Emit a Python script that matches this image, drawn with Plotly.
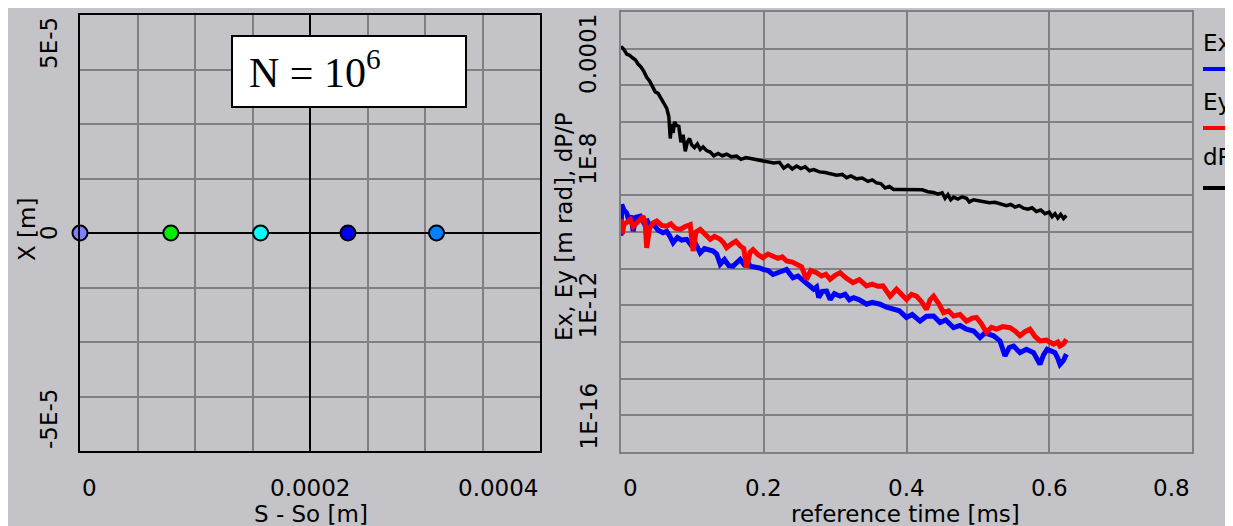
import math
import plotly.graph_objects as go

# ---------------- data ----------------
# Left panel: bunch positions
s_pos = [0.0, 0.0000790, 0.0001570, 0.0002330, 0.0003100]
x_pos = [0.0, 0.0, 0.0, 0.0, 0.0]
bunch_colors = ["#8080ff", "#00ee00", "#00ffff", "#0000f0", "#0080ff"]

# Left panel tick labels
left_xticks = [0.0, 0.0002, 0.0004]
left_xtick_text = ["0", "0.0002", "0.0004"]
left_yticks = [5e-5, 0.0, -5e-5]
left_ytick_text = ["5E-5", "0", "-5E-5"]

# Right panel: time (ms) and log10 of values
dP_t = [0.000, 0.004, 0.008, 0.012, 0.016, 0.020, 0.024, 0.028, 0.032, 0.036, 0.040, 0.044,
        0.048, 0.052, 0.056, 0.060, 0.064, 0.067, 0.069, 0.071, 0.073, 0.075, 0.078, 0.081,
        0.084, 0.087, 0.090, 0.093, 0.096, 0.099, 0.103, 0.107, 0.111, 0.115, 0.120, 0.125,
        0.130, 0.136, 0.142, 0.148, 0.155, 0.162, 0.168, 0.175, 0.182, 0.190, 0.198, 0.206,
        0.214, 0.222, 0.228, 0.234, 0.240, 0.246, 0.252, 0.258, 0.264, 0.270, 0.278, 0.286,
        0.294, 0.302, 0.310, 0.316, 0.322, 0.330, 0.338, 0.346, 0.352, 0.358, 0.364, 0.370,
        0.376, 0.382, 0.392, 0.402, 0.412, 0.422, 0.430, 0.438, 0.444, 0.450, 0.454, 0.458,
        0.462, 0.466, 0.472, 0.478, 0.484, 0.488, 0.494, 0.500, 0.508, 0.516, 0.524, 0.532,
        0.540, 0.546, 0.552, 0.558, 0.564, 0.570, 0.576, 0.582, 0.588, 0.594, 0.600, 0.604,
        0.608, 0.612, 0.616, 0.620, 0.624]
dP_log10 = [-4.94, -5.02, -5.15, -5.18, -5.25, -5.30, -5.42, -5.50, -5.62, -5.78, -5.88, -6.05,
            -6.18, -6.22, -6.35, -6.45, -6.62, -6.85, -7.45, -7.05, -7.30, -7.00, -7.10, -7.12,
            -7.55, -7.35, -7.80, -7.55, -7.45, -7.62, -7.70, -7.60, -7.75, -7.68, -7.78, -7.82,
            -7.92, -7.86, -7.92, -7.88, -7.95, -7.93, -8.02, -7.97, -8.00, -8.03, -8.05, -8.08,
            -8.12, -8.10, -8.26, -8.18, -8.28, -8.20, -8.27, -8.22, -8.33, -8.30, -8.36, -8.38,
            -8.42, -8.45, -8.43, -8.52, -8.47, -8.55, -8.53, -8.62, -8.58, -8.66, -8.68, -8.80,
            -8.76, -8.84, -8.84, -8.84, -8.85, -8.85, -8.90, -8.92, -8.97, -8.93, -9.08, -8.98,
            -9.12, -9.05, -9.10, -9.04, -9.08, -9.18, -9.12, -9.14, -9.17, -9.20, -9.19, -9.24,
            -9.28, -9.25, -9.32, -9.28, -9.35, -9.38, -9.34, -9.44, -9.40, -9.50, -9.46, -9.58,
            -9.50, -9.62, -9.52, -9.63, -9.55]

ex_t = [0.000, 0.001, 0.004, 0.008, 0.011, 0.014, 0.017, 0.021, 0.027, 0.032, 0.037, 0.041,
        0.046, 0.052, 0.059, 0.064, 0.068, 0.073, 0.079, 0.085, 0.092, 0.098, 0.104, 0.111,
        0.117, 0.123, 0.129, 0.134, 0.139, 0.145, 0.151, 0.157, 0.162, 0.167, 0.172, 0.177,
        0.181, 0.188, 0.194, 0.199, 0.206, 0.213, 0.220, 0.226, 0.232, 0.237, 0.241, 0.248,
        0.256, 0.262, 0.270, 0.274, 0.277, 0.282, 0.288, 0.293, 0.299, 0.307, 0.314, 0.320,
        0.326, 0.334, 0.344, 0.352, 0.363, 0.372, 0.382, 0.390, 0.400, 0.408, 0.419, 0.428,
        0.438, 0.447, 0.455, 0.466, 0.475, 0.484, 0.494, 0.503, 0.510, 0.522, 0.531, 0.538,
        0.544, 0.550, 0.559, 0.568, 0.578, 0.587, 0.592, 0.597, 0.603, 0.608, 0.612, 0.615,
        0.620, 0.624]
ex_log10 = [-10.10, -9.25, -9.40, -9.48, -9.70, -9.55, -9.98, -9.60, -9.57, -9.75, -9.70, -9.84,
            -9.80, -9.95, -10.02, -9.98, -10.10, -10.29, -10.15, -10.22, -10.20, -10.35, -10.30, -10.57,
            -10.45, -10.50, -10.52, -10.60, -10.88, -10.75, -10.92, -10.93, -10.82, -10.75, -10.88, -10.80,
            -10.93, -10.95, -10.98, -11.02, -11.05, -11.16, -11.10, -11.05, -11.02, -11.15, -11.25, -11.20,
            -11.34, -11.40, -11.56, -11.50, -11.79, -11.62, -11.61, -11.84, -11.68, -11.75, -11.70, -11.85,
            -11.79, -11.85, -11.97, -11.92, -11.97, -12.05, -12.11, -12.15, -12.33, -12.25, -12.43, -12.30,
            -12.29, -12.47, -12.40, -12.61, -12.55, -12.65, -12.70, -12.88, -12.75, -12.83, -12.97, -13.38,
            -13.15, -13.11, -13.29, -13.20, -13.29, -13.61, -13.35, -13.20, -13.25, -13.29, -13.45, -13.61,
            -13.50, -13.33]

ey_t = [0.000, 0.002, 0.004, 0.008, 0.013, 0.017, 0.022, 0.027, 0.031, 0.034, 0.036, 0.040,
        0.045, 0.050, 0.057, 0.064, 0.070, 0.076, 0.083, 0.090, 0.097, 0.101, 0.105, 0.111,
        0.118, 0.125, 0.131, 0.139, 0.144, 0.148, 0.155, 0.161, 0.167, 0.172, 0.176, 0.181,
        0.185, 0.192, 0.199, 0.206, 0.213, 0.220, 0.226, 0.232, 0.240, 0.246, 0.253, 0.260,
        0.266, 0.274, 0.281, 0.287, 0.293, 0.300, 0.307, 0.315, 0.325, 0.334, 0.344, 0.352,
        0.360, 0.367, 0.372, 0.377, 0.386, 0.393, 0.400, 0.407, 0.414, 0.421, 0.428, 0.433,
        0.438, 0.445, 0.452, 0.459, 0.466, 0.475, 0.484, 0.492, 0.498, 0.505, 0.512, 0.519,
        0.526, 0.535, 0.545, 0.552, 0.559, 0.566, 0.573, 0.580, 0.587, 0.596, 0.606, 0.612,
        0.615, 0.620, 0.624]
ey_log10 = [-9.65, -10.05, -9.80, -9.72, -9.66, -9.85, -9.75, -9.62, -9.57, -9.80, -10.43, -9.90,
            -9.75, -9.70, -9.82, -9.84, -9.78, -9.90, -9.93, -9.85, -9.80, -10.52, -10.00, -9.93,
            -10.05, -10.20, -10.12, -10.20, -10.30, -10.43, -10.32, -10.25, -10.38, -10.45, -10.97, -10.55,
            -10.48, -10.62, -10.70, -10.60, -10.66, -10.72, -10.68, -10.79, -10.82, -10.88, -10.95, -11.29,
            -11.05, -11.11, -11.20, -11.15, -11.29, -11.18, -11.11, -11.25, -11.38, -11.30, -11.47, -11.42,
            -11.48, -11.47, -11.62, -11.75, -11.56, -11.68, -11.84, -11.70, -11.75, -11.90, -12.11, -11.85,
            -11.75, -11.95, -12.20, -12.15, -12.29, -12.25, -12.43, -12.35, -12.33, -12.50, -12.74, -12.60,
            -12.65, -12.58, -12.61, -12.70, -12.83, -12.72, -12.65, -12.85, -12.97, -12.95, -13.06, -13.00,
            -13.11, -13.05, -12.93]

right_xticks = [0.0, 0.2, 0.4, 0.6, 0.8]
right_xtick_text = ["0", "0.2", "0.4", "0.6", "0.8"]
right_yticks = [1e-4, 1e-8, 1e-12, 1e-16]
right_ytick_text = ["0.0001", "1E-8", "1E-12", "1E-16"]

legend_names = ["Ex", "Ey", "dP/P"]
legend_colors = ["#0000ff", "#ff0000", "#000000"]

# ---------------- layout helpers ----------------
# the page body has an 8px margin, so the figure starts at (8, 8) of the window
OFF = 8
W, H = 1233 - OFF, 526 - OFF
GREY = "#c4c3c7"
GRID = "#808080"
FONT = dict(family="DejaVu Sans, Arial, sans-serif", size=23, color="black")


def fx(px):
    return (px - OFF) / W


def fy(py):
    return 1 - (py - OFF) / H


fig = go.Figure()

fig.add_trace(go.Scatter(
    x=s_pos, y=x_pos, mode="markers", xaxis="x", yaxis="y", cliponaxis=False,
    marker=dict(size=15, color=bunch_colors, line=dict(color="black", width=2)),
    showlegend=False, hoverinfo="x+y"))

fig.add_trace(go.Scatter(
    x=ex_t, y=[10 ** v for v in ex_log10], mode="lines", xaxis="x2", yaxis="y2",
    line=dict(color=legend_colors[0], width=5), name=legend_names[0], showlegend=False))
fig.add_trace(go.Scatter(
    x=ey_t, y=[10 ** v for v in ey_log10], mode="lines", xaxis="x2", yaxis="y2",
    line=dict(color=legend_colors[1], width=5), name=legend_names[1], showlegend=False))
fig.add_trace(go.Scatter(
    x=dP_t, y=[10 ** v for v in dP_log10], mode="lines", xaxis="x2", yaxis="y2",
    line=dict(color=legend_colors[2], width=3.5), name=legend_names[2], showlegend=False))

common_ax = dict(showticklabels=False, ticks="", showgrid=True, gridcolor=GRID, gridwidth=2,
                 showline=True, mirror=True, linewidth=2)

fig.update_layout(
    width=W, height=H, margin=dict(l=0, r=0, t=0, b=0),
    paper_bgcolor="white", plot_bgcolor="rgba(0,0,0,0)",
    showlegend=False,
    xaxis=dict(domain=[fx(80), fx(540)], range=[0, 0.0004], dtick=0.00005, tick0=0,
               zeroline=False, linecolor="black", anchor="y", **common_ax),
    yaxis=dict(domain=[fy(451), fy(15)], range=[-5e-5, 5e-5], dtick=1.25e-5, tick0=0,
               zeroline=True, zerolinecolor="black", zerolinewidth=2,
               linecolor="black", anchor="x", **common_ax),
    xaxis2=dict(domain=[fx(621), fx(1192)], range=[0, 0.8], dtick=0.2, tick0=0,
                zeroline=False, linecolor=GRID, anchor="y2", **common_ax),
    yaxis2=dict(domain=[fy(452), fy(12)], type="log", range=[-16, -4], dtick=1,
                zeroline=False, linecolor=GRID, anchor="x2", **common_ax),
)

shapes = [
    # panel backgrounds
    dict(type="rect", xref="paper", yref="paper", x0=0, x1=fx(548), y0=0, y1=1,
         fillcolor=GREY, line=dict(width=0), layer="below"),
    dict(type="rect", xref="paper", yref="paper", x0=fx(547), x1=1, y0=0, y1=1,
         fillcolor=GREY, line=dict(width=0), layer="below"),
    # centre line of left panel
    dict(type="line", xref="x", yref="y domain", x0=left_xticks[1], x1=left_xticks[1], y0=0, y1=1,
         line=dict(color="black", width=2)),
    # N label box
    dict(type="rect", xref="paper", yref="paper", x0=fx(232), x1=fx(466), y0=fy(107), y1=fy(36),
         fillcolor="white", line=dict(color="black", width=2)),
]
# legend line samples
for c, py in zip(legend_colors, [69, 128, 188]):
    shapes.append(dict(type="line", xref="paper", yref="paper", x0=fx(1203), x1=fx(1245),
                       y0=fy(py), y1=fy(py), line=dict(color=c, width=4)))
fig.update_layout(shapes=shapes)

ann = []
# N = 10^6
ann.append(dict(text="N = 10<sup>6</sup>", xref="paper", yref="paper", x=fx(247), y=fy(70),
                xanchor="left", yanchor="middle", showarrow=False,
                font=dict(family="Liberation Serif, Times New Roman, serif", size=42, color="black")))

# left x tick labels
for v, t, a in zip(left_xticks, left_xtick_text, ["left", "center", "right"]):
    ann.append(dict(text=t, xref="x", yref="paper", x=v, y=fy(488), xanchor=a, yanchor="middle",
                    showarrow=False, font=FONT))
# left y tick labels (rotated)
for v, t, a in zip(left_yticks, left_ytick_text, ["top", "middle", "bottom"]):
    ann.append(dict(text=t, xref="paper", yref="y", x=fx(64), y=v, xanchor="right", yanchor=a,
                    textangle=-90, showarrow=False, font=FONT))
# right x tick labels
for i, (v, t) in enumerate(zip(right_xticks, right_xtick_text)):
    a = "left" if i == 0 else ("right" if i == len(right_xticks) - 1 else "center")
    ann.append(dict(text=t, xref="x2", yref="paper", x=v, y=fy(488), xanchor=a, yanchor="middle",
                    showarrow=False, font=FONT))
# right y tick labels (rotated); log axis annotations use log10 coordinates
for i, (v, t) in enumerate(zip(right_yticks, right_ytick_text)):
    a = "top" if i == 0 else ("bottom" if i == len(right_yticks) - 1 else "middle")
    ann.append(dict(text=t, xref="paper", yref="y2", x=fx(603), y=math.log10(v), xanchor="right",
                    yanchor=a, textangle=-90, showarrow=False, font=FONT))

# axis titles
ann.append(dict(text="X [m]", xref="paper", yref="paper", x=fx(27), y=fy(230), textangle=-90,
                xanchor="center", yanchor="middle", showarrow=False, font=FONT))
ann.append(dict(text="S - So [m]", xref="paper", yref="paper", x=fx(311), y=fy(514),
                xanchor="center", yanchor="middle", showarrow=False, font=FONT))
ann.append(dict(text="Ex, Ey [m rad], dP/P", xref="paper", yref="paper", x=fx(564), y=fy(227),
                textangle=-90, xanchor="center", yanchor="middle", showarrow=False, font=FONT))
ann.append(dict(text="reference time [ms]", xref="paper", yref="paper", x=fx(905), y=fy(514),
                xanchor="center", yanchor="middle", showarrow=False, font=FONT))

# legend texts
for name, py in zip(legend_names, [43, 102, 157]):
    ann.append(dict(text=name, xref="paper", yref="paper", x=fx(1201), y=fy(py),
                    xanchor="left", yanchor="middle", showarrow=False, font=FONT))

fig.update_layout(annotations=ann)

fig.write_html("out.html")
